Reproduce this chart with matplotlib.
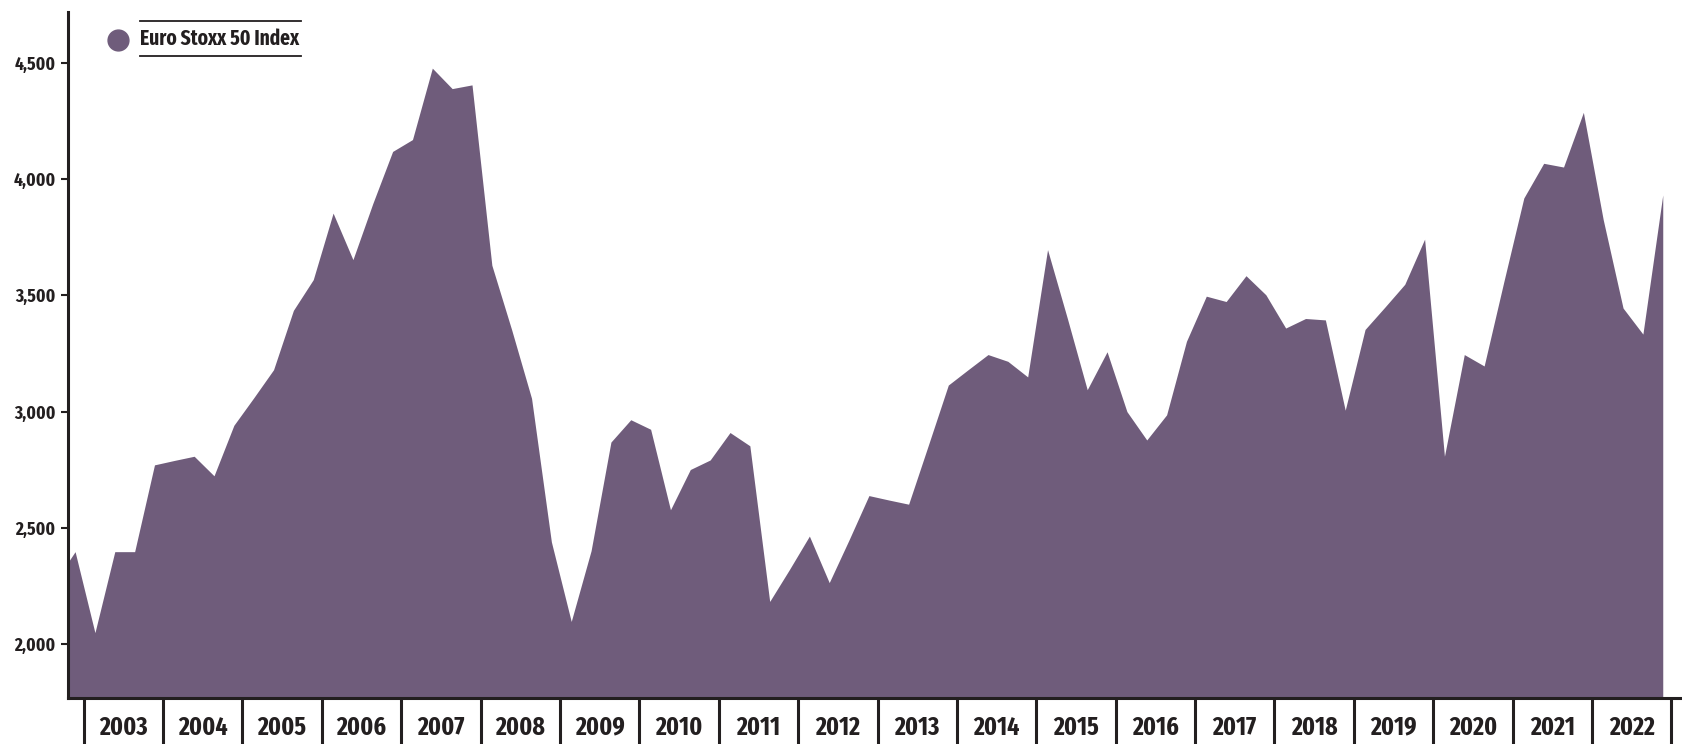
import matplotlib
matplotlib.use("Agg")
import matplotlib.pyplot as plt
from matplotlib import font_manager as fm
from matplotlib.lines import Line2D
import matplotlib.transforms as mtransforms
import numpy as np
import pandas as pd

# quarterly closes (first point is only partly visible)
quarters = pd.period_range("2002Q3", "2022Q4", freq="Q")
values = [2270,
          2398, 2050, 2398, 2398, 2771, 2790, 2808, 2724, 2941, 3059,
          3180, 3435, 3567, 3853, 3653, 3894, 4118, 4169, 4476, 4388,
          4404, 3629, 3351, 3057, 2440, 2098, 2402, 2869, 2965, 2924,
          2578, 2751, 2792, 2910, 2853, 2184, 2322, 2465, 2265, 2449,
          2639, 2620, 2602, 2857, 3114, 3180, 3245, 3216, 3149, 3696,
          3400, 3094, 3257, 3000, 2878, 2986, 3302, 3496, 3473, 3584,
          3502, 3359, 3400, 3394, 3006, 3353, 3449, 3547, 3741, 2808,
          3245, 3196, 3561, 3918, 4067, 4051, 4286, 3825, 3445, 3333,
          3931]
years = list(range(2003, 2023))
yticks = [2000, 2500, 3000, 3500, 4000, 4500]
series_name = "Euro Stoxx 50 Index"

purple = "#6f5c7b"
ink = "#231f20"


def narrow_bold():
    # look for a condensed bold face among the installed fonts
    bold = [f for f in fm.fontManager.ttflist
            if f.weight in (700, "bold") and f.style == "normal"]
    bold.sort(key=lambda f: f.fname)
    for key in ["extracondensed", "narrow", "condensed", "semicondensed"]:
        for f in bold:
            nm = f.fname.lower().replace("-", "").replace("_", "").replace(" ", "")
            if key in nm:
                if key == "condensed" and ("semi" in nm or "extra" in nm):
                    continue
                return fm.FontProperties(fname=f.fname), True
    return fm.FontProperties(family="DejaVu Sans", weight="bold"), False


fp, found = narrow_bold()
scale = 1.0 if found else 0.8

x = np.arange(len(quarters)) - 1  # 2002Q4 sits at 0
ymin, ymax = 1769, 4717

fig = plt.figure(figsize=(16.82, 7.44), dpi=100)
ax = fig.add_axes([0.0406, 0.0618, 0.9594, 0.9220])
ax.fill_between(x, ymin, values, color=purple, lw=0)
ax.set_xlim(-0.343, 80.97)
ax.set_ylim(ymin, ymax)

for s in ["top", "right"]:
    ax.spines[s].set_visible(False)
for s in ["left", "bottom"]:
    ax.spines[s].set_linewidth(2.2)
    ax.spines[s].set_color(ink)

ax.set_yticks(yticks)
ax.set_yticklabels([f"{v:,}" for v in yticks])
ax.tick_params(axis="y", direction="out", length=5, width=1.5, color=ink,
               labelcolor=ink, pad=4)
for lab in ax.get_yticklabels():
    lab.set_fontproperties(fp)
    lab.set_fontsize(13.5 * scale)
ax.set_xticks([])

# year boxes under the axis
trans = mtransforms.blended_transform_factory(ax.transData, ax.transAxes)
for k in range(len(years) + 1):
    xd = 0.433 + 4 * k
    ax.plot([xd, xd], [0, -0.08], transform=trans, color=ink, lw=2.2,
            clip_on=False, solid_capstyle="butt")
for k, yr in enumerate(years):
    ax.text(2.433 + 4 * k, -0.043, str(yr), transform=trans, ha="center",
            va="center", fontproperties=fp, fontsize=18.5 * scale, color=ink)

# legend
W, H = 1682, 744
fig.add_artist(Line2D([118 / W], [1 - 39.5 / H], marker="o", markersize=15,
                      color=purple, lw=0, transform=fig.transFigure))
for yy in [20.7, 55.7]:
    fig.add_artist(Line2D([140 / W, 301 / W], [1 - yy / H, 1 - yy / H],
                          color=ink, lw=1.3, transform=fig.transFigure))
fig.text(140 / W, 1 - 38.5 / H, series_name, ha="left", va="center",
         fontproperties=fp, fontsize=15.2 * scale, color=ink)

fig.savefig("out.png", dpi=100)
